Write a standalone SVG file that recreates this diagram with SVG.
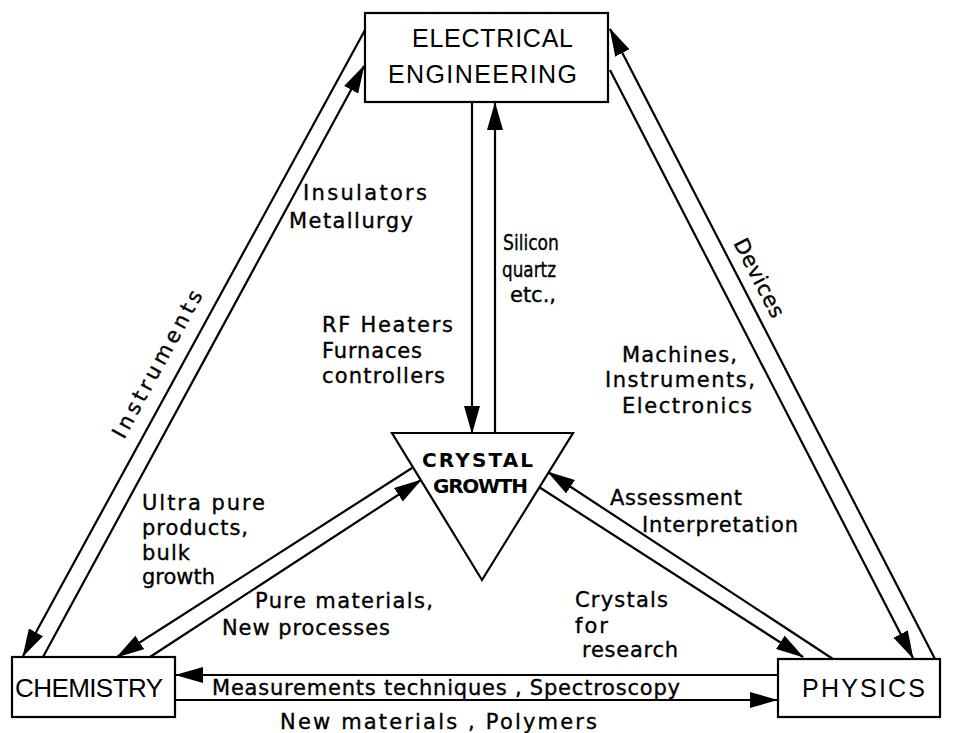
<svg xmlns="http://www.w3.org/2000/svg" width="953" height="733" viewBox="0 0 953 733">
<style>
.box{fill:#fff;stroke:#000;stroke-width:2.2}
.ln{fill:none;stroke:#000;stroke-width:2.2}
.arr{marker-end:url(#ah)}
.big{font-family:"Liberation Sans","DejaVu Sans",sans-serif;fill:#000}
.lab{font-family:"DejaVu Sans","Noto Sans",sans-serif;font-size:21px;fill:#000;stroke:#000;stroke-width:0.35}
.cg{font-family:"DejaVu Sans",sans-serif;font-weight:bold;font-size:20px;fill:#000}
</style>
<defs>
<marker id="ah" markerUnits="userSpaceOnUse" markerWidth="28" markerHeight="16" refX="27" refY="8" orient="auto">
<path d="M0,0 L28,8 L0,16 Z" fill="#000"/>
</marker>
</defs>
<rect width="953" height="733" fill="#fff"/>
<g id="connectors">
<line class="ln arr" x1="472" y1="102" x2="472" y2="433"/>
<line class="ln arr" x1="495" y1="433" x2="495" y2="103"/>
<line class="ln arr" x1="365" y1="30" x2="23" y2="656"/>
<line class="ln arr" x1="43" y1="657" x2="364" y2="66"/>
<line class="ln arr" x1="610" y1="70" x2="913" y2="658"/>
<line class="ln arr" x1="935" y1="659" x2="610" y2="29"/>
<line class="ln arr" x1="412" y1="468" x2="117" y2="657"/>
<line class="ln arr" x1="150" y1="657" x2="421" y2="480"/>
<line class="ln arr" x1="833" y1="659" x2="548" y2="472"/>
<line class="ln arr" x1="539" y1="487" x2="803" y2="657"/>
<line class="ln arr" x1="778" y1="675" x2="176" y2="675"/>
<line class="ln arr" x1="175" y1="700" x2="777" y2="700"/>
</g>
<g id="ee">
<rect class="box" x="365" y="13" width="243" height="89"/>
<text class="big" x="412" y="47" font-size="25" textLength="161" lengthAdjust="spacing">ELECTRICAL</text>
<text class="big" x="388" y="83" font-size="25" textLength="189" lengthAdjust="spacing">ENGINEERING</text>
</g>
<g id="crystal">
<polygon class="box" points="392,433 573,433 482,580"/>
<text class="cg" x="422" y="467" textLength="111" lengthAdjust="spacing">CRYSTAL</text>
<text class="cg" x="433" y="493" textLength="95" lengthAdjust="spacing">GROWTH</text>
</g>
<g id="chemistry">
<rect class="box" x="12" y="657" width="163" height="60"/>
<text class="big" x="15" y="697" font-size="26" textLength="148" lengthAdjust="spacing">CHEMISTRY</text>
</g>
<g id="physics">
<rect class="box" x="778" y="659" width="162" height="58"/>
<text class="big" x="802" y="697" font-size="25" textLength="123" lengthAdjust="spacing">PHYSICS</text>
</g>
<g id="labels">
<text class="lab" x="303" y="200" textLength="124" lengthAdjust="spacing">Insulators</text>
<text class="lab" x="289" y="228" textLength="124" lengthAdjust="spacing">Metallurgy</text>
<text class="lab" x="503" y="250" font-size="19" textLength="56" lengthAdjust="spacingAndGlyphs">Silicon</text>
<text class="lab" x="502" y="277" font-size="19" textLength="54" lengthAdjust="spacingAndGlyphs">quartz</text>
<text class="lab" x="510" y="302" font-size="19" textLength="46" lengthAdjust="spacing">etc.,</text>
<text class="lab" x="322" y="332" textLength="131" lengthAdjust="spacing">RF Heaters</text>
<text class="lab" x="322" y="358" textLength="100" lengthAdjust="spacing">Furnaces</text>
<text class="lab" x="322" y="383" textLength="123" lengthAdjust="spacing">controllers</text>
<text class="lab" x="622" y="362" textLength="115" lengthAdjust="spacing">Machines,</text>
<text class="lab" x="605" y="387" textLength="150" lengthAdjust="spacing">Instruments,</text>
<text class="lab" x="622" y="413" textLength="130" lengthAdjust="spacing">Electronics</text>
<text class="lab" x="610" y="505" textLength="132" lengthAdjust="spacing">Assessment</text>
<text class="lab" x="642" y="532" textLength="156" lengthAdjust="spacing">Interpretation</text>
<text class="lab" x="142" y="510" font-size="20" textLength="123" lengthAdjust="spacing">Ultra pure</text>
<text class="lab" x="142" y="535" font-size="20" textLength="106" lengthAdjust="spacing">products,</text>
<text class="lab" x="142" y="560" font-size="20" textLength="48" lengthAdjust="spacing">bulk</text>
<text class="lab" x="142" y="584" font-size="20" textLength="73" lengthAdjust="spacing">growth</text>
<text class="lab" x="255" y="608" textLength="178" lengthAdjust="spacing">Pure materials,</text>
<text class="lab" x="222" y="635" textLength="168" lengthAdjust="spacing">New processes</text>
<text class="lab" x="575" y="607" textLength="93" lengthAdjust="spacing">Crystals</text>
<text class="lab" x="575" y="633" textLength="33" lengthAdjust="spacing">for</text>
<text class="lab" x="582" y="657" textLength="96" lengthAdjust="spacing">research</text>
<text class="lab" x="212" y="695" font-size="19" textLength="468" lengthAdjust="spacing">Measurements techniques , Spectroscopy</text>
<text class="lab" x="280" y="729" font-size="19" textLength="317" lengthAdjust="spacing">New materials , Polymers</text>
<text class="lab" transform="translate(124,440) rotate(-61.4)" x="0" y="0" textLength="165" lengthAdjust="spacing">Instruments</text>
<text class="lab" transform="translate(733,243) rotate(62.7)" x="0" y="0" textLength="86" lengthAdjust="spacing">Devices</text>
</g>
</svg>
